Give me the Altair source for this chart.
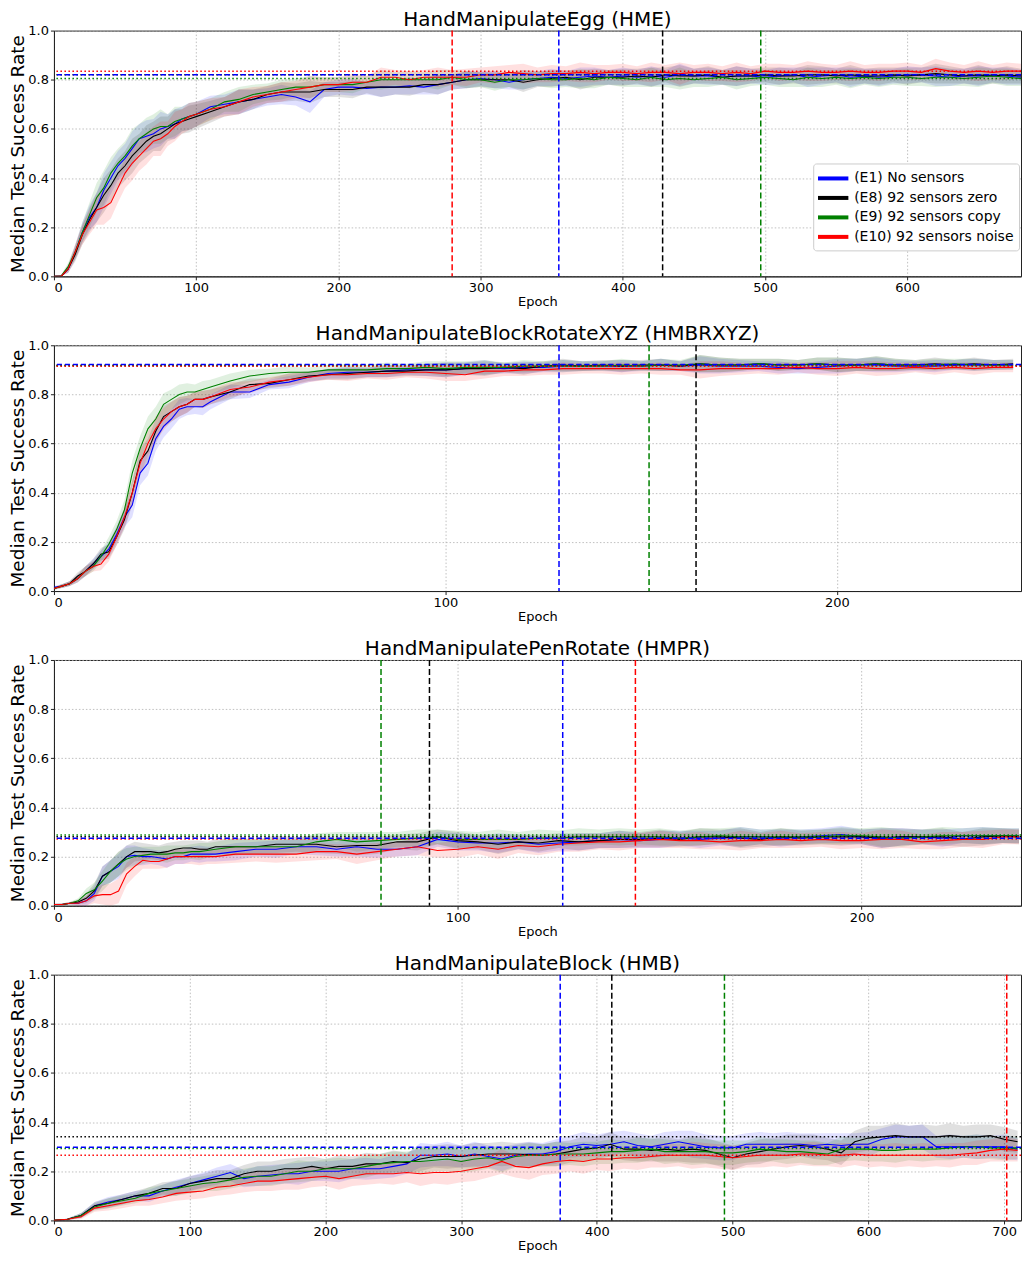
import altair as alt
import pandas as pd

SERIES = ["(E1) No sensors", "(E8) 92 sensors zero", "(E9) 92 sensors copy", "(E10) 92 sensors noise"]
COLORS = ["#0000ff", "#000000", "#008000", "#ff0000"]
FONT = "DejaVu Sans"

# ---------------- HandManipulateEgg (HME) ----------------
hme_epochs = list(range(0, 100, 5)) + list(range(100, 690, 10))
hme_e1 = [0, 0, .03, .10, .18, .24, .28, .35, .40, .45,
          .48, .52, .56, .57, .58, .60, .61, .62, .64, .65,
          .66, .69, .70, .71, .72, .73, .74, .73, .71, .76,
          .77, .77, .765, .77, .77, .775, .77, .78, .79, .80,
          .805, .80, .79, .80, .805, .81, .805, .81, .815, .81,
          .815, .81, .815, .81, .82, .815, .815, .81, .815, .815,
          .81, .815, .82, .81, .815, .82, .81, .815, .81, .815,
          .82, .82, .815, .81, .815, .815, .82, .815, .81]
hme_e8 = [0, 0, .03, .09, .17, .23, .28, .33, .37, .42,
          .45, .49, .52, .55, .57, .58, .60, .62, .63, .64,
          .65, .67, .69, .71, .72, .74, .75, .75, .75, .76,
          .76, .76, .77, .77, .77, .77, .78, .78, .79, .80,
          .80, .80, .80, .79, .80, .805, .81, .80, .81, .81,
          .81, .815, .81, .82, .815, .815, .82, .81, .815, .815,
          .82, .815, .815, .82, .82, .815, .82, .815, .815, .82,
          .815, .82, .825, .82, .815, .82, .815, .82, .815]
hme_e9 = [0, 0, .04, .10, .18, .25, .32, .36, .42, .46,
          .49, .53, .56, .58, .60, .61, .61, .63, .64, .65,
          .66, .68, .71, .72, .74, .75, .76, .77, .77, .78,
          .78, .78, .79, .80, .80, .80, .80, .80, .81, .80,
          .80, .79, .80, .80, .805, .80, .80, .805, .80, .81,
          .805, .80, .81, .80, .805, .80, .805, .81, .80, .805,
          .81, .805, .80, .81, .805, .81, .805, .81, .805, .81,
          .81, .805, .81, .81, .805, .81, .815, .81, .805]
hme_e10 = [0, 0, .03, .10, .17, .22, .27, .28, .30, .36,
           .42, .46, .49, .52, .55, .56, .58, .61, .63, .65,
           .66, .68, .69, .71, .73, .74, .75, .76, .77, .78,
           .78, .79, .79, .81, .81, .80, .81, .81, .81, .81,
           .82, .82, .83, .825, .82, .825, .825, .83, .825, .83,
           .83, .825, .83, .83, .825, .83, .83, .825, .83, .825,
           .835, .83, .83, .835, .83, .83, .835, .83, .83, .835,
           .835, .83, .845, .835, .83, .835, .83, .835, .835]
hme_spread = [0, .005, .015, .03, .04, .05, .06, .07, .065, .06,
              .06, .07, .06, .065, .06, .07, .05, .06, .05, .055,
              .05, .045, .04, .05, .04, .035, .04, .035, .045, .03,
              .03, .035, .025, .04, .03, .035, .03, .04, .03, .035,
              .03, .035, .03, .04, .03, .035, .03, .04, .035, .03,
              .035, .03, .04, .03, .045, .03, .035, .03, .04, .03,
              .03, .035, .03, .04, .035, .03, .04, .03, .035, .03,
              .035, .03, .04, .035, .03, .04, .03, .035, .03]
hme_vlines = [355, 428, 497, 280]
hme_hlines = [0.82, 0.82, 0.805, 0.835]

# ---------------- HandManipulateBlockRotateXYZ (HMBRXYZ) ----------------
hmbr_epochs = list(range(0, 40, 2)) + list(range(40, 250, 5))
hmbr_e1 = [.015, .02, .03, .05, .08, .11, .14, .17, .23, .30,
           .35, .48, .52, .62, .67, .70, .74, .75, .75, .75,
           .77, .81, .81, .84, .85, .87, .885, .89, .89, .895,
           .90, .90, .90, .905, .91, .905, .91, .91, .915, .915,
           .915, .915, .915, .92, .915, .92, .915, .915, .915, .91,
           .905, .91, .915, .92, .92, .915, .915, .915, .92, .92,
           .92, .92]
hmbr_e8 = [.01, .02, .03, .06, .08, .11, .15, .16, .22, .29,
           .40, .53, .57, .65, .71, .73, .75, .76, .78, .78,
           .79, .81, .84, .845, .86, .875, .88, .885, .89, .895,
           .895, .90, .90, .905, .905, .91, .905, .915, .92, .915,
           .92, .915, .92, .92, .915, .925, .92, .92, .925, .92,
           .92, .925, .92, .92, .925, .92, .92, .925, .92, .925,
           .92, .925]
hmbr_e9 = [.01, .02, .03, .05, .08, .10, .14, .19, .25, .33,
           .48, .58, .66, .70, .76, .78, .80, .81, .81, .82,
           .83, .855, .875, .885, .89, .89, .90, .90, .90, .905,
           .905, .91, .905, .91, .91, .91, .915, .915, .915, .915,
           .915, .92, .915, .92, .92, .925, .92, .92, .925, .92,
           .92, .925, .92, .92, .925, .92, .92, .92, .925, .92,
           .92, .92]
hmbr_e10 = [.01, .02, .03, .05, .08, .10, .11, .15, .22, .30,
            .40, .52, .60, .66, .70, .73, .75, .76, .78, .78,
            .79, .82, .83, .85, .86, .87, .88, .88, .885, .885,
            .89, .89, .885, .88, .895, .895, .90, .90, .905, .905,
            .905, .905, .905, .905, .90, .90, .905, .905, .905, .905,
            .91, .905, .905, .91, .905, .905, .91, .905, .91, .905,
            .91, .91]
hmbr_spread = [.005, .008, .01, .015, .02, .02, .025, .03, .035, .04,
               .05, .05, .05, .05, .045, .04, .04, .035, .03, .035,
               .03, .03, .025, .02, .025, .02, .02, .025, .02, .025,
               .02, .025, .03, .025, .03, .02, .025, .02, .025, .02,
               .02, .025, .02, .025, .02, .035, .03, .025, .02, .025,
               .02, .025, .03, .025, .03, .025, .02, .025, .02, .025,
               .02, .02]
hmbr_vlines = [129, 164, 152]
hmbr_hlines = [0.922, 0.919, 0.917, 0.915]

# ---------------- HandManipulatePenRotate (HMPR) ----------------
hmpr_epochs = list(range(0, 40, 2)) + list(range(40, 240, 5)) + [239]
hmpr_e1 = [.005, .005, .01, .01, .02, .05, .12, .14, .16, .20,
           .205, .20, .20, .195, .19, .20, .20, .21, .21, .21,
           .21, .22, .23, .23, .24, .24, .23, .24, .23, .23,
           .24, .27, .26, .255, .255, .26, .25, .255, .26, .265,
           .27, .265, .27, .275, .27, .275, .28, .28, .275, .28,
           .285, .29, .28, .275, .28, .28, .275, .285, .285, .285,
           .285]
hmpr_e8 = [.005, .005, .01, .015, .03, .06, .12, .14, .17, .20,
           .22, .22, .22, .215, .22, .23, .235, .235, .23, .23,
           .24, .24, .24, .25, .25, .25, .24, .245, .245, .26,
           .26, .28, .265, .26, .25, .26, .255, .265, .26, .265,
           .27, .27, .275, .27, .28, .28, .275, .27, .28, .275,
           .28, .28, .28, .275, .28, .28, .28, .27, .28, .285,
           .28]
hmpr_e9 = [.005, .005, .01, .02, .05, .065, .10, .14, .17, .19,
           .20, .205, .21, .21, .21, .215, .215, .22, .22, .225,
           .23, .24, .24, .24, .24, .26, .27, .26, .265, .27,
           .275, .28, .27, .27, .27, .27, .275, .275, .28, .28,
           .28, .28, .28, .275, .28, .285, .28, .28, .28, .28,
           .28, .285, .285, .28, .275, .28, .285, .285, .285, .285,
           .285]
hmpr_e10 = [.005, .005, .01, .01, .02, .04, .045, .045, .06, .13,
            .16, .185, .18, .18, .19, .20, .20, .20, .20, .20,
            .20, .21, .21, .21, .21, .22, .22, .21, .22, .23,
            .24, .225, .23, .24, .23, .245, .24, .25, .255, .26,
            .26, .265, .27, .265, .265, .26, .265, .265, .27, .265,
            .27, .265, .265, .27, .27, .26, .265, .27, .27, .28,
            .28]
hmpr_spread = [.003, .004, .005, .01, .02, .03, .04, .045, .05, .045,
               .04, .035, .03, .03, .035, .03, .03, .03, .035, .03,
               .03, .035, .03, .035, .03, .035, .03, .04, .035, .03,
               .035, .03, .035, .03, .04, .03, .035, .03, .035, .03,
               .035, .03, .035, .03, .035, .03, .04, .03, .035, .03,
               .03, .035, .03, .04, .035, .03, .035, .03, .035, .03,
               .03]
hmpr_vlines = [126, 93, 81, 144]
hmpr_hlines = [0.275, 0.281, 0.288, 0.272]

# ---------------- HandManipulateBlock (HMB) ----------------
hmb_epochs = list(range(0, 720, 10))
hmb_e1 = [0, .005, .02, .06, .075, .085, .10, .10, .12, .135,
          .15, .165, .18, .195, .17, .18, .185, .19, .19, .20,
          .20, .20, .21, .21, .21, .22, .23, .265, .265, .27,
          .26, .27, .26, .25, .265, .27, .27, .28, .30, .31,
          .305, .31, .32, .305, .30, .31, .32, .31, .30, .295,
          .295, .31, .31, .31, .31, .31, .305, .31, .305, .31,
          .31, .33, .34, .34, .34, .30, .30, .30, .30, .30,
          .30, .29]
hmb_e8 = [0, .005, .02, .06, .07, .085, .10, .11, .13, .13,
          .15, .16, .17, .17, .19, .20, .20, .21, .21, .22,
          .21, .22, .22, .23, .23, .24, .235, .25, .26, .26,
          .26, .265, .27, .27, .27, .268, .265, .27, .28, .29,
          .295, .31, .29, .29, .285, .29, .285, .29, .285, .27,
          .255, .27, .28, .29, .30, .305, .30, .29, .275, .32,
          .335, .34, .345, .34, .34, .34, .345, .34, .34, .345,
          .33, .32]
hmb_e9 = [0, .005, .02, .055, .07, .08, .09, .11, .12, .13,
          .14, .15, .155, .165, .175, .18, .18, .19, .20, .20,
          .21, .21, .21, .22, .23, .235, .24, .24, .245, .25,
          .24, .25, .255, .245, .26, .265, .265, .27, .27, .27,
          .275, .28, .28, .285, .29, .28, .28, .28, .28, .275,
          .275, .28, .29, .285, .28, .28, .275, .27, .29, .29,
          .29, .285, .285, .29, .29, .29, .295, .30, .30, .295,
          .295, .295]
hmb_e10 = [0, .005, .015, .05, .06, .07, .08, .085, .095, .11,
           .115, .12, .135, .14, .15, .16, .16, .165, .17, .175,
           .18, .17, .18, .19, .19, .19, .195, .19, .195, .195,
           .20, .21, .22, .24, .22, .215, .23, .24, .245, .24,
           .25, .25, .255, .255, .26, .265, .265, .265, .265, .26,
           .255, .26, .265, .265, .265, .27, .27, .265, .265, .27,
           .265, .265, .265, .265, .265, .265, .265, .27, .275, .285,
           .29, .285]
hmb_spread = [0, .003, .01, .015, .02, .02, .02, .025, .025, .03,
              .03, .03, .035, .035, .035, .04, .04, .04, .045, .04,
              .04, .045, .04, .045, .04, .045, .04, .05, .045, .05,
              .045, .05, .045, .05, .045, .05, .045, .05, .045, .05,
              .045, .05, .045, .05, .045, .05, .045, .055, .05, .05,
              .05, .045, .05, .045, .05, .045, .05, .045, .05, .045,
              .05, .045, .05, .045, .05, .045, .05, .045, .05, .045,
              .05, .045]
hmb_vlines = [373, 411, 494, 702]
hmb_hlines = [0.298, 0.34, 0.293, 0.265]

PANEL_W = 968
PANEL_H = 246


def build(title, epochs, meds, spread, xmax, xticks, vnames, vlines, hlines, legend):
    rows = []
    for name, vals in zip(SERIES, meds):
        for e, m, s in zip(epochs, vals, spread):
            rows.append({"epoch": e, "series": name, "med": m,
                         "lo": max(0.0, m - s), "hi": min(1.0, m + s)})
    df = pd.DataFrame(rows)
    vdf = pd.DataFrame({"series": vnames, "value": vlines})
    hdf = pd.DataFrame({"series": SERIES, "value": hlines})

    xscale = alt.Scale(domain=[0, xmax], nice=False, zero=False)
    yscale = alt.Scale(domain=[0, 1], nice=False)
    xaxis = alt.Axis(values=xticks, title="Epoch", format="d", grid=True)
    yaxis = alt.Axis(values=[0, 0.2, 0.4, 0.6, 0.8, 1.0], format=".1f",
                     title="Median Test Success Rate", grid=True)
    sc = alt.Scale(domain=SERIES, range=COLORS)
    if legend:
        leg = alt.Legend(orient="none", legendX=760, legendY=133, title=None,
                         symbolType="M-1.9,0L1.9,0", symbolSize=256,
                         symbolStrokeWidth=4, symbolOpacity=1,
                         labelFontSize=14, labelFont=FONT, labelColor="black",
                         fillColor="white", strokeColor="#cccccc",
                         cornerRadius=3, padding=5, rowPadding=1.5,
                         labelOffset=11, symbolOffset=5, labelLimit=300)
    else:
        leg = None
    col = alt.Color("series:N", scale=sc, legend=leg)
    X = alt.X("epoch:Q", scale=xscale, axis=xaxis)

    band = alt.Chart(df).mark_area(opacity=0.12, clip=True).encode(
        x=X,
        y=alt.Y("lo:Q", scale=yscale, axis=yaxis),
        y2="hi:Q",
        color=col,
    )
    line = alt.Chart(df).mark_line(strokeWidth=1.1, clip=True).encode(
        x=X,
        y=alt.Y("med:Q", scale=yscale, axis=yaxis),
        color=col,
    )
    hdash = alt.Chart(hdf[hdf.series == SERIES[0]]).mark_rule(
        strokeWidth=1.5, strokeDash=[5, 3]).encode(
        y=alt.Y("value:Q", scale=yscale, axis=yaxis),
        color=col,
    )
    hdot = alt.Chart(hdf[hdf.series != SERIES[0]]).mark_rule(
        strokeWidth=1.5, strokeDash=[1.5, 2.5]).encode(
        y=alt.Y("value:Q", scale=yscale, axis=yaxis),
        color=col,
    )
    vrule = alt.Chart(vdf).mark_rule(strokeWidth=1.5, strokeDash=[6, 3]).encode(
        x=alt.X("value:Q", scale=xscale, axis=xaxis),
        color=col,
    )
    return alt.layer(band, line, hdot, hdash, vrule).properties(
        width=PANEL_W, height=PANEL_H,
        title=alt.TitleParams(title, fontSize=20, fontWeight="normal",
                              font=FONT, color="black", offset=-5),
    )


p1 = build("HandManipulateEgg (HME)", hme_epochs,
           [hme_e1, hme_e8, hme_e9, hme_e10], hme_spread, 680,
           [0, 100, 200, 300, 400, 500, 600],
           [SERIES[0], SERIES[1], SERIES[2], SERIES[3]], hme_vlines, hme_hlines, True)
p2 = build("HandManipulateBlockRotateXYZ (HMBRXYZ)", hmbr_epochs,
           [hmbr_e1, hmbr_e8, hmbr_e9, hmbr_e10], hmbr_spread, 247,
           [0, 100, 200],
           [SERIES[0], SERIES[1], SERIES[2]], hmbr_vlines, hmbr_hlines, False)
p3 = build("HandManipulatePenRotate (HMPR)", hmpr_epochs,
           [hmpr_e1, hmpr_e8, hmpr_e9, hmpr_e10], hmpr_spread, 239.5,
           [0, 100, 200],
           [SERIES[0], SERIES[1], SERIES[2], SERIES[3]], hmpr_vlines, hmpr_hlines, False)
p4 = build("HandManipulateBlock (HMB)", hmb_epochs,
           [hmb_e1, hmb_e8, hmb_e9, hmb_e10], hmb_spread, 712.5,
           [0, 100, 200, 300, 400, 500, 600, 700],
           [SERIES[0], SERIES[1], SERIES[2], SERIES[3]], hmb_vlines, hmb_hlines, False)

chart = alt.vconcat(p1, p2, p3, p4, spacing=14, padding={"left": 0, "top": 0, "right": 0, "bottom": 0}).resolve_scale(
    x="independent", color="independent"
).configure(
    font=FONT
).configure_view(
    stroke="#222222", strokeWidth=1
).configure_axis(
    labelFont=FONT, titleFont=FONT, labelFontSize=13, labelColor="black",
    titleColor="black", titleFontWeight="normal", domainColor="#222222",
    tickColor="#222222", tickSize=3.5, labelPadding=2,
    gridColor="#b0b0b0", gridDash=[1.5, 2], gridWidth=0.8,
).configure_axisX(
    titleFontSize=13, titlePadding=1
).configure_axisY(
    titleFontSize=18.5, titlePadding=0
)

chart.save("out.html", embed_options={"renderer": "svg", "actions": False})
